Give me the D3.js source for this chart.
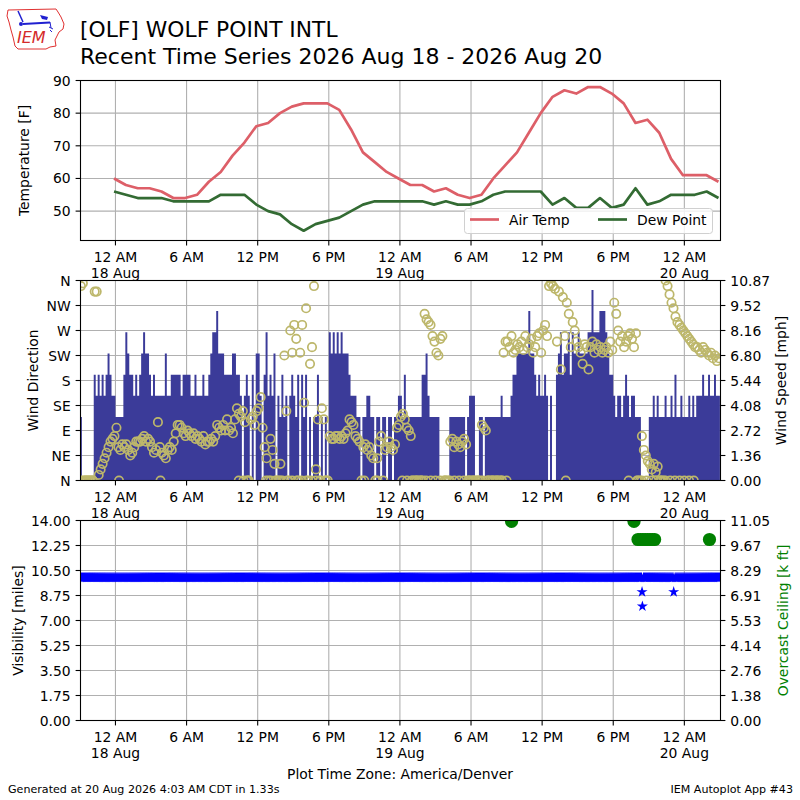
<!DOCTYPE html>
<html><head><meta charset="utf-8">
<script src="https://cdn.jsdelivr.net/npm/d3@7/dist/d3.min.js"></script>
<style>body{margin:0;background:#fff} text{font-family:"DejaVu Sans",sans-serif;}</style>
</head><body><svg id="c" width="800" height="800" xmlns="http://www.w3.org/2000/svg"></svg>
<script>
// ---------------- data ----------------
const tickHours = [0, 6, 12, 18, 24, 30, 36, 42, 48];
const hourLabels = ["12 AM","6 AM","12 PM","6 PM","12 AM","6 AM","12 PM","6 PM","12 AM"];
const dateLabels = ["18 Aug","","","","19 Aug","","","","20 Aug"];
const hourDomain = [-2.95, 51.05];          // hours since 18 Aug 00:00 local
const obsOffsetHours = -0.12;               // hourly obs at :53
const tempF = [60,58,57,57,56,54,54,55,59,62,67,71,76,77,80,82,83,83,83,81,75,68,65,62,
               60,58,58,56,57,55,54,55,60,64,68,74,80,85,87,86,88,88,86,83,77,78,74,66,
               61,61,61,59];
const dewF  = [56,55,54,54,54,53,53,53,53,55,55,55,52,50,49,46,44,46,47,48,50,52,53,53,
               53,53,53,52,53,52,52,53,55,56,56,56,56,52,54,51,51,54,51,52,57,52,53,55,
               55,55,56,54];
const tempTicks = [50, 60, 70, 80, 90];
// wind, 10-minute bins, one row per hour starting 17 Aug 21:00 (hour -3)
const windStartHour = -3;
const windSpeedKt = [
 [3,0,0,0,0,0],[0,5,4,5,4,5],[4,5,6,5,4,4],
 [3,3,3,3,5,7],[6,5,5,4,5,4],[5,6,7,6,6,5],[4,5,4,4,4,4],[4,6,4,4,5,5],[5,5,5,4,5,5],
 [5,5,4,4,5,4],[4,4,5,4,4,5],[6,7,7,8,6,6],[6,5,5,5,5,6],[6,5,5,4,0,4],[5,4,0,5,0,6],
 [6,4,0,5,7,4],[5,4,6,0,4,3],[5,3,4,0,4,5],[4,3,5,0,5,3],[5,0,3,0,3,3],[5,0,3,0,3,0],
 [7,6,7,6,7,6],[7,6,6,6,5,4],[4,4,3,3,0,3],[3,4,4,3,3,0],[3,3,0,3,3,0],[3,3,0,3,3,4],
 [4,3,5,3,3,3],[3,3,3,3,3,5],[5,6,4,3,3,3],[3,3,0,0,0,0],[0,3,3,3,3,3],[3,3,3,0,3,4],
 [4,4,0,0,3,3],[0,3,3,3,3,3],[3,3,3,4,3,3],[3,3,4,5,5,6],[6,6,6,6,6,8],[6,6,5,4,5,4],
 [4,5,4,0,4,0],[0,5,6,7,5,6],[6,7,5,7,6,6],[7,6,6,6,6,7],[7,9,7,7,7,8],[8,8,7,6,5,5],
 [4,3,4,4,3,4],[5,4,3,4,4,3],[3,3,0,0,0,0],[3,3,4,3,4,3],[3,3,4,3,3,4],[3,5,3,3,4,3],
 [3,3,4,3,4,3],[4,4,4,5,4,4],[5,4,4,5,4,4]
];
const windDirDeg = [
 [350,355,0,0,0,0],[0,340,340,10,20,30],[40,50,60,70,75,80],
 [95,60,55,65,60,65],[55,45,50,60,70,70],[70,75,80,70,75,70],[60,50,55,105,60,50],
 [45,40,55,60,55,70],[85,100,100,95,85,80],[90,85,80,85,75,80],[75,70,80,65,70,70],
 [75,70,80,100,95,90],[100,90,110,90,95,85],[110,130,120,115,125,105],[0,0,110,115,100,125],
 [130,150,95,60,40,0],[75,55,30,0,0,30],[0,225,125,0,270,230],[280,255,0,230,280,140],
 [310,0,210,240,350,20],[110,0,130,110,0,0],[80,75,75,80,80,75],[80,75,85,90,110,105],
 [100,80,75,70,0,60],[65,55,60,45,40,0],[40,70,80,0,55,60],[70,60,55,65,95,100],
 [115,120,110,95,90,80],[0,0,0,0,0,0],[300,290,285,280,260,250],[230,225,255,260,0,0],
 [0,70,75,60,70,65],[60,70,75,65,0,0],[0,0,0,0,0,100],[95,90,0,0,0,0],
 [0,0,0,0,230,250],[250,240,260,230,235,245],[240,250,235,260,240,245],[255,230,240,260,265,230],
 [270,280,260,350,355,350],[345,250,340,200,330,260],[320,300,240,285,270,250],[240,230,210,245,240,200],
 [240,250,230,245,235,240],[230,235,240,230,250,235],[320,300,270,250,260,240],[250,260,265,255,240,265],
 [0,0,80,55,45,35],[30,20,30,15,25,0],[0,0,360,350,335,320],[310,295,285,280,275,270],
 [265,260,255,250,245,240],[240,235,230,240,235,230],[225,230,220,225,215,220]
];
const calmObsHours = [-2.9,-2.7,-2.5,-2.3,-2.1,-1.9,0.3,3.8,10.4,10.8,11.2,12.7,13.1,13.5,13.9,
  14.5,14.9,15.3,15.7,16.1,16.5,16.9,17.3,17.7,21.0,22.1,24.2,24.6,25.0,25.4,25.8,26.2,26.6,
  27.0,27.4,27.8,28.2,28.6,29.0,29.4,29.8,30.2,30.6,31.0,31.4,31.8,32.2,32.6,33.0,38.0,43.3,
  44.0,44.4,44.8,45.2,45.6,46.0,46.4,46.8,47.2,47.6,48.0,48.4,48.8];
const dirTicks = [0,45,90,135,180,225,270,315,360];
const dirTickLabels = ["N","NE","E","SE","S","SW","W","NW","N"];
const speedMax = 10.87;
const speedTickLabels = ["0.00","1.36","2.72","4.08","5.44","6.80","8.16","9.52","10.87"];
const visTicks = [0,1.75,3.5,5.25,7,8.75,10.5,12.25,14];
const visTickLabels = ["0.00","1.75","3.50","5.25","7.00","8.75","10.50","12.25","14.00"];
const ceilMax = 11.05;
const ceilTickLabels = ["0.00","1.38","2.76","4.14","5.53","6.91","8.29","9.67","11.05"];
const visRuns = [[-2.95, 51.05, 10]];       // [start hour, end hour, miles]
const visOdd = [[44.43, 9], [44.46, 8], [47.1, 9]];
const ceilingObs = [[33.42,11],[43.75,11],[44.09,10],[44.3,10],[44.5,10],[44.7,10],[44.9,10],
  [45.1,10],[45.3,10],[45.49,10],[50.12,10]];

// ---------------- drawing ----------------
const svg = d3.select("#c");
const L = 80.5, R = 720.5;
const FS = 13.9;
const gridC = "#b0b0b0";
const x = d3.scaleLinear().domain(hourDomain).range([L, R]);

const panels = {
  top: {y0: 80.5, y1: 240.5},
  mid: {y0: 280.5, y1: 480.5},
  bot: {y0: 520.5, y1: 720.5}
};
const defs = svg.append("defs");
Object.entries(panels).forEach(([k, p]) => {
  defs.append("clipPath").attr("id", "clip-" + k).append("rect")
    .attr("x", L).attr("y", p.y0).attr("width", R - L).attr("height", p.y1 - p.y0);
});

function vgrid(p) {
  svg.append("g").selectAll("line").data(tickHours).join("line")
    .attr("x1", d => x(d)).attr("x2", d => x(d)).attr("y1", p.y0).attr("y2", p.y1)
    .attr("stroke", gridC).attr("stroke-width", 1.1);
}
function hgrid(p, ys) {
  svg.append("g").selectAll("line").data(ys).join("line")
    .attr("x1", L).attr("x2", R).attr("y1", d => d).attr("y2", d => d)
    .attr("stroke", gridC).attr("stroke-width", 1.1);
}
function frame(p) {
  svg.append("rect").attr("x", L).attr("y", p.y0).attr("width", R - L).attr("height", p.y1 - p.y0)
    .attr("fill", "none").attr("stroke", "#000").attr("stroke-width", 1.1);
}
function xTicks(p) {
  const g = svg.append("g");
  g.selectAll("line").data(tickHours).join("line")
    .attr("x1", d => x(d)).attr("x2", d => x(d)).attr("y1", p.y1).attr("y2", p.y1 + 4.9)
    .attr("stroke", "#000").attr("stroke-width", 1.1);
  g.selectAll("text.h").data(tickHours).join("text").attr("class", "h")
    .attr("x", d => x(d)).attr("y", p.y1 + 21.5).attr("text-anchor", "middle")
    .attr("font-size", FS).text((d, i) => hourLabels[i]);
  g.selectAll("text.d").data(tickHours).join("text").attr("class", "d")
    .attr("x", d => x(d)).attr("y", p.y1 + 37.5).attr("text-anchor", "middle")
    .attr("font-size", FS).text((d, i) => dateLabels[i]);
}
function yTicksLeft(ys, labels) {
  const g = svg.append("g");
  g.selectAll("line").data(ys).join("line")
    .attr("x1", L - 4.9).attr("x2", L).attr("y1", d => d).attr("y2", d => d)
    .attr("stroke", "#000").attr("stroke-width", 1.1);
  g.selectAll("text").data(ys).join("text")
    .attr("x", L - 9.8).attr("y", d => d).attr("dy", "0.36em").attr("text-anchor", "end")
    .attr("font-size", FS).text((d, i) => labels[i]);
}
function yTicksRight(ys, labels) {
  const g = svg.append("g");
  g.selectAll("line").data(ys).join("line")
    .attr("x1", R).attr("x2", R + 4.9).attr("y1", d => d).attr("y2", d => d)
    .attr("stroke", "#000").attr("stroke-width", 1.1);
  g.selectAll("text").data(ys).join("text")
    .attr("x", R + 9.8).attr("y", d => d).attr("dy", "0.36em").attr("text-anchor", "start")
    .attr("font-size", FS).text((d, i) => labels[i]);
}
function vLabel(cx, cy, txt, color) {
  svg.append("text").attr("transform", `translate(${cx},${cy}) rotate(-90)`)
    .attr("text-anchor", "middle").attr("dy", "0.36em").attr("font-size", FS)
    .attr("fill", color || "#000").text(txt);
}

// ===== top panel: temperature =====
const pT = panels.top;
const yT = d3.scaleLinear().domain([41, 90]).range([pT.y1, pT.y0]);
vgrid(pT);
hgrid(pT, tempTicks.map(yT));
const line = d3.line().x((d, i) => x(i + obsOffsetHours)).y(d => yT(d));
const gT = svg.append("g").attr("clip-path", "url(#clip-top)");
gT.append("path").attr("d", line(tempF)).attr("fill", "none").attr("stroke", "#dd5f68")
  .attr("stroke-width", 2.7).attr("stroke-linejoin", "round");
gT.append("path").attr("d", line(dewF)).attr("fill", "none").attr("stroke", "#336b33")
  .attr("stroke-width", 2.7).attr("stroke-linejoin", "round");
frame(pT);
xTicks(pT);
yTicksLeft(tempTicks.map(yT), tempTicks.map(String));
vLabel(24, (pT.y0 + pT.y1) / 2, "Temperature [F]");
// legend
const leg = svg.append("g");
leg.append("rect").attr("x", 464.5).attr("y", 208.5).attr("width", 248).attr("height", 25)
  .attr("rx", 3).attr("fill", "#fff").attr("fill-opacity", 0.8).attr("stroke", "#d0d0d0");
const legItems = [{n: "Air Temp", c: "#dd5f68", x: 470}, {n: "Dew Point", c: "#336b33", x: 598}];
legItems.forEach(it => {
  leg.append("line").attr("x1", it.x).attr("x2", it.x + 29).attr("y1", 219.5).attr("y2", 219.5)
    .attr("stroke", it.c).attr("stroke-width", 2.7);
  leg.append("text").attr("x", it.x + 39).attr("y", 219.5).attr("dy", "0.36em")
    .attr("font-size", FS).text(it.n);
});

// ===== middle panel: wind =====
const pM = panels.mid;
const yD = d3.scaleLinear().domain([0, 360]).range([pM.y1, pM.y0]);
const yS = d3.scaleLinear().domain([0, speedMax]).range([pM.y1, pM.y0]);
vgrid(pM);
hgrid(pM, dirTicks.map(yD));
const KT2MPH = 1.15078;
const windBins = [];
windSpeedKt.forEach((row, hi) => row.forEach((kt, j) => {
  const t0 = windStartHour + hi + j / 6;
  windBins.push({t0, t1: t0 + 1 / 6, mph: kt * KT2MPH, dir: windDirDeg[hi][j]});
}));
const gM = svg.append("g").attr("clip-path", "url(#clip-mid)");
const barSteps = windBins.concat([{t0: windBins[windBins.length - 1].t1, mph: 0}]);
const barArea = d3.area().curve(d3.curveStepAfter)
  .x(d => x(d.t0)).y0(yS(0)).y1(d => yS(d.mph));
gM.append("path").attr("d", barArea(barSteps)).attr("fill", "#3b3b99");
const dirPts = windBins.map(d => ({t: d.t0 + 1 / 12, dir: d.dir}))
  .concat(calmObsHours.map(h => ({t: h, dir: 0})));
gM.append("g").selectAll("circle").data(dirPts).join("circle")
  .attr("cx", d => x(d.t)).attr("cy", d => yD(d.dir)).attr("r", 4.2)
  .attr("fill", "none").attr("stroke", "#bdb76b").attr("stroke-width", 1.7);
frame(pM);
xTicks(pM);
yTicksLeft(dirTicks.map(yD), dirTickLabels);
yTicksRight(dirTicks.map(yD), speedTickLabels);
vLabel(33, (pM.y0 + pM.y1) / 2, "Wind Direction");
vLabel(781, (pM.y0 + pM.y1) / 2, "Wind Speed [mph]");

// ===== bottom panel: visibility & ceiling =====
const pB = panels.bot;
const yV = d3.scaleLinear().domain([0, 14]).range([pB.y1, pB.y0]);
const yC = d3.scaleLinear().domain([0, ceilMax]).range([pB.y1, pB.y0]);
vgrid(pB);
hgrid(pB, visTicks.map(yV));
const visPts = [];
visRuns.forEach(([a, b, v]) => {
  for (let t = a; t <= b; t += 1 / 12) {
    if (visOdd.some(o => Math.abs(o[0] - t) < 0.04)) continue;
    visPts.push([t, v]);
  }
});
visOdd.forEach(o => visPts.push(o));
const gB = svg.append("g").attr("clip-path", "url(#clip-bot)");
const star = d3.symbol().type(d3.symbolStar).size(38);
gB.append("g").selectAll("path").data(visPts).join("path")
  .attr("transform", d => `translate(${x(d[0])},${yV(d[1])})`).attr("d", star)
  .attr("fill", "#0000ff");
gB.append("g").selectAll("circle").data(ceilingObs).join("circle")
  .attr("cx", d => x(d[0])).attr("cy", d => yC(d[1])).attr("r", 6.6).attr("fill", "#008000");
frame(pB);
xTicks(pB);
yTicksLeft(visTicks.map(yV), visTickLabels);
yTicksRight(visTicks.map(yV), ceilTickLabels);
vLabel(18, (pB.y0 + pB.y1) / 2, "Visibility [miles]");
vLabel(783, (pB.y0 + pB.y1) / 2, "Overcast Ceiling [k ft]", "#008000");

// ===== titles & footer =====
svg.append("text").attr("x", 80).attr("y", 36.5).attr("font-size", 21.8).text("[OLF] WOLF POINT INTL");
svg.append("text").attr("x", 80).attr("y", 64).attr("font-size", 22)
  .text("Recent Time Series 2026 Aug 18 - 2026 Aug 20");
svg.append("text").attr("x", 400).attr("y", 779).attr("text-anchor", "middle").attr("font-size", FS)
  .text("Plot Time Zone: America/Denver");
svg.append("text").attr("x", 8).attr("y", 793).attr("font-size", 11.1)
  .text("Generated at 20 Aug 2026 4:03 AM CDT in 1.33s");
svg.append("text").attr("x", 793).attr("y", 793).attr("text-anchor", "end").attr("font-size", 11.1)
  .text("IEM Autoplot App #43");

// ===== logo =====
const logo = svg.append("g");
logo.append("path").attr("d", "M8,10 L56,9 L58,12 L61,17 L64,24 L63,29 L59,32 L57,36 L55,40 L56,46 L50,47 L46,49 L18,49 L15,46 L13,37 L11,30 L9,22 L7,16 Z")
  .attr("fill", "none").attr("stroke", "#e03030").attr("stroke-width", 1);
logo.append("line").attr("x1", 23).attr("y1", 24).attr("x2", 50).attr("y2", 22.5)
  .attr("stroke", "#2020d0").attr("stroke-width", 2);
logo.append("line").attr("x1", 18).attr("y1", 11).attr("x2", 23).attr("y2", 22)
  .attr("stroke", "#2020d0").attr("stroke-width", 1.5);
logo.append("path").attr("d", "M40,15 L48,17 L47,20 L42,19 Z").attr("fill", "#2020d0");
logo.append("circle").attr("cx", 21).attr("cy", 24).attr("r", 2).attr("fill", "#2020d0");
logo.append("path").attr("d", "M50,22 L51,28 M49,27 L53,29 M50,30 L52,32")
  .attr("stroke", "#2020d0").attr("stroke-width", 1).attr("fill", "none");
logo.append("text").attr("x", 17).attr("y", 43).attr("font-family", "Liberation Serif")
  .attr("font-style", "italic").attr("font-size", 16).attr("fill", "#d42a2a").text("IEM");
</script></body></html>
